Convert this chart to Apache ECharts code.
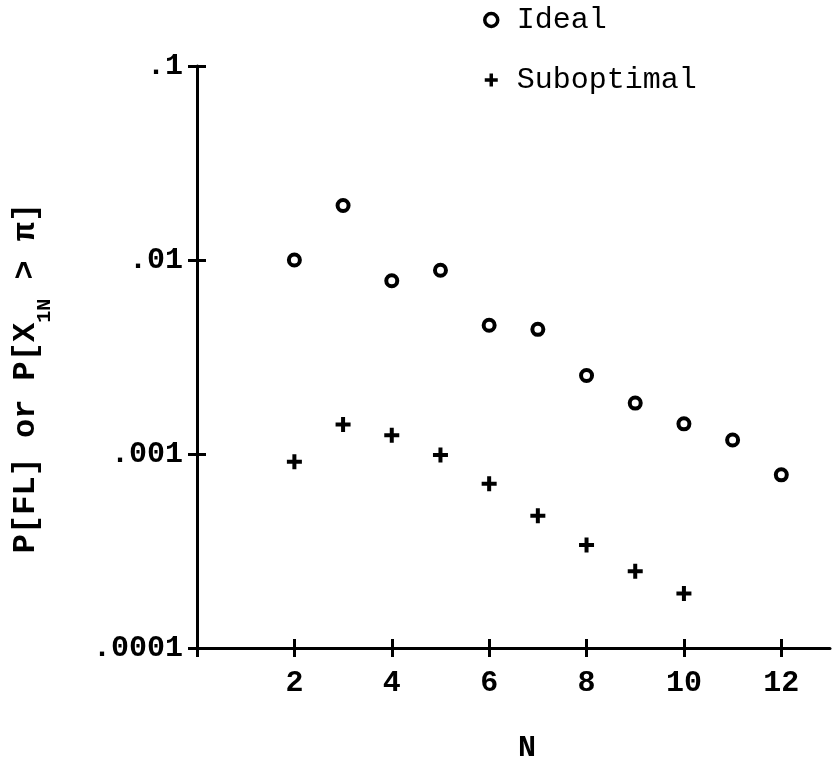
<!DOCTYPE html>
<html><head><meta charset="utf-8">
<script src="https://cdn.jsdelivr.net/npm/echarts@6/dist/echarts.min.js"></script>
<style>html,body{margin:0;padding:0;background:#fff}#c{width:836px;height:763px}</style>
</head><body><div id="c"></div>
<script>
// ---- data ----
const idealN = [2, 3, 4, 5, 6, 7, 8, 9, 10, 11, 12];
const idealValues = [0.0100, 0.0191, 0.00782, 0.00885, 0.00461, 0.00439, 0.00254, 0.00183, 0.00143, 0.00118, 0.000781];
const subN = [2, 3, 4, 5, 6, 7, 8, 9, 10];
const subValues = [0.000912, 0.00142, 0.00125, 0.000988, 0.000702, 0.000480, 0.000340, 0.000249, 0.000191];
const xTickValues = [0, 2, 4, 6, 8, 10, 12];
const yTickValues = [0.0001, 0.001, 0.01, 0.1];
const yTickLabels = ['.0001', '.001', '.01', '.1'];
const seriesNames = ['Ideal', 'Suboptimal'];
const xAxisTitle = 'N';
const yAxisTitleParts = ['P[FL] or P[X', '1N', ' > \u03c0]'];

// ---- chart ----
const FONT = '"Liberation Mono", "Courier New", monospace';
const plusPath = 'path://M5.5,0h4v5.5h5.5v4h-5.5v5.5h-4v-5.5h-5.5v-4h5.5z';
const chart = echarts.init(document.getElementById('c'), null, {renderer: 'canvas'});

function yFmt(v) {
  let best = 0, bd = Infinity;
  yTickValues.forEach((t, i) => { const d = Math.abs(Math.log10(v) - Math.log10(t)); if (d < bd) { bd = d; best = i; } });
  return bd < 0.01 ? yTickLabels[best] : '';
}
const axisLine = {show: true, lineStyle: {color: '#000', width: 3}};
const tickStyle = {color: '#000', width: 3};

chart.setOption({
  animation: false,
  backgroundColor: '#fff',
  grid: {left: 197, right: 6, top: 66, bottom: 115, containLabel: false, outerBoundsMode: 'none'},
  legend: {
    orient: 'vertical', left: 478, top: 0, itemGap: 30,
    itemWidth: 13, itemHeight: 13,
    itemStyle: {borderWidth: 3.5},
    textStyle: {fontFamily: FONT, fontSize: 30, color: '#000', lineHeight: 30, padding: [0, 0, 0, 14]},
    data: seriesNames
  },
  xAxis: [{
    type: 'value', min: 0, max: 13, interval: 2, position: 'bottom',
    axisLine: axisLine,
    axisTick: {show: true, inside: false, length: 9, lineStyle: tickStyle, customValues: xTickValues},
    axisLabel: {fontFamily: FONT, fontSize: 30, fontWeight: 'bold', color: '#000', margin: 20,
      customValues: xTickValues.filter(v => v !== 0)},
    splitLine: {show: false}
  }, {
    type: 'value', min: 0, max: 13, interval: 2, position: 'bottom',
    axisLine: {show: false},
    axisTick: {show: true, inside: true, length: 9, lineStyle: tickStyle, customValues: xTickValues},
    axisLabel: {show: false}, splitLine: {show: false}
  }],
  yAxis: [{
    type: 'log', logBase: 10, min: 0.0001, max: 0.1, position: 'left',
    axisLine: axisLine,
    axisTick: {show: true, inside: false, length: 9, lineStyle: tickStyle},
    minorTick: {show: false},
    axisLabel: {fontFamily: FONT, fontSize: 30, fontWeight: 'bold', color: '#000', margin: 14, formatter: yFmt},
    splitLine: {show: false}
  }, {
    type: 'log', logBase: 10, min: 0.0001, max: 0.1, position: 'left', offset: 0,
    axisLine: {show: false},
    axisTick: {show: true, inside: true, length: 9, lineStyle: tickStyle},
    axisLabel: {show: false}, splitLine: {show: false}
  }],
  graphic: [{
    type: 'text', x: 32, y: 378, rotation: Math.PI / 2,
    style: {
      text: '{n|' + yAxisTitleParts[0] + '}{s|' + yAxisTitleParts[1] + '}{n|' + yAxisTitleParts[2] + '}',
      align: 'center', verticalAlign: 'middle',
      rich: {
        n: {fontFamily: FONT, fontSize: 32, fontWeight: 'bold', fill: '#000', lineHeight: 30, verticalAlign: 'top'},
        s: {fontFamily: FONT, fontSize: 20, fontWeight: 'bold', fill: '#000', lineHeight: 45, verticalAlign: 'bottom'}
      }
    }
  }, {
    type: 'text', x: 527, y: 748,
    style: {text: xAxisTitle, fontFamily: FONT, fontSize: 30, fontWeight: 'bold', fill: '#000', align: 'center', verticalAlign: 'middle'}
  }],
  series: [{
    name: seriesNames[0], type: 'scatter', xAxisIndex: 0, yAxisIndex: 0,
    symbol: 'circle', symbolSize: 11,
    itemStyle: {color: '#fff', borderColor: '#000', borderWidth: 4, opacity: 1},
    data: idealN.map((n, i) => [n, idealValues[i]])
  }, {
    name: seriesNames[1], type: 'scatter', xAxisIndex: 0, yAxisIndex: 0,
    symbol: plusPath, symbolSize: 15,
    itemStyle: {color: '#000', opacity: 1},
    data: subN.map((n, i) => [n, subValues[i]])
  }]
});
</script></body></html>
